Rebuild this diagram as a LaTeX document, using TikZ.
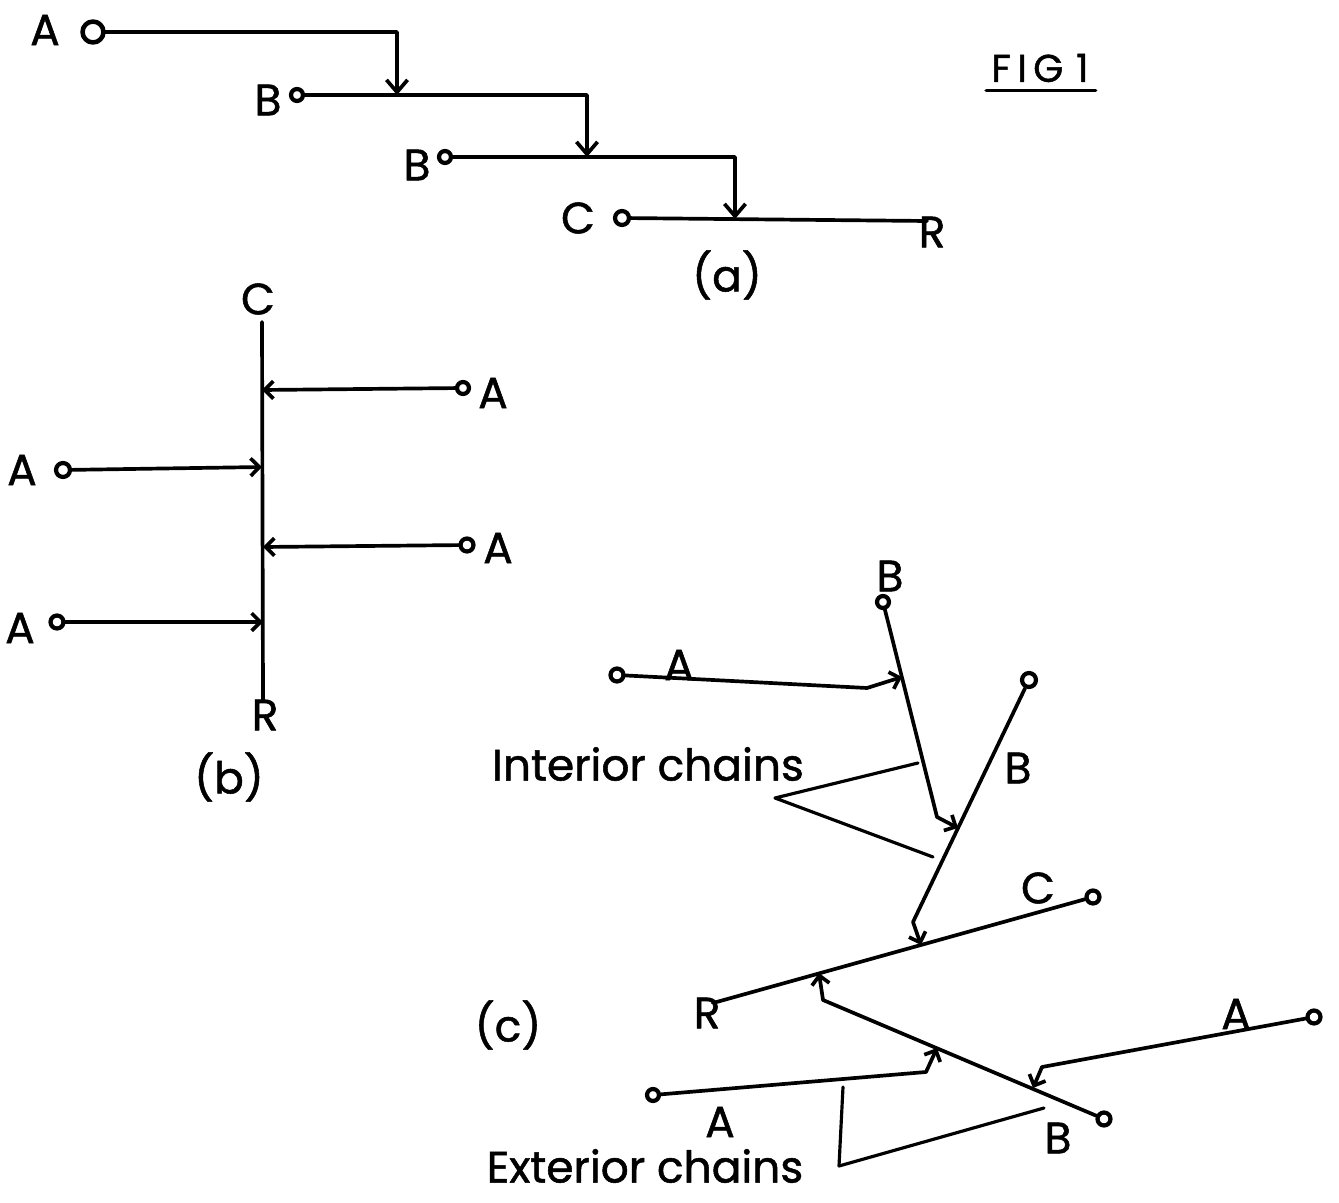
\documentclass[tikz,border=0pt]{standalone}
\usepackage{fontspec}
\setmainfont{Poppins}
\newfontfamily\labfont{Poppins}[FakeBold=1.2]
\usetikzlibrary{arrows.meta}
\begin{document}
\begin{tikzpicture}[x=0.02cm,y=-0.02cm,
  line width=2.1pt, line cap=round, line join=round,
  bigterm/.style={draw, circle, line width=2.6pt, inner sep=0pt, minimum size=21*0.567pt},
  smallterm/.style={draw, circle, line width=2.4pt, inner sep=0pt, minimum size=12*0.567pt},
  lab/.style={inner sep=0pt, font=\labfont\fontsize{25}{28}\selectfont},
  arr/.style={-{Straight Barb[length=7pt,width=12pt]}},
  sarr/.style={-{Straight Barb[length=5pt,width=10pt]}},
  brk/.style={line width=1.8pt}]
\useasboundingbox (0,0) rectangle (1339,1203);

% ---------------- panel (a)
\node[bigterm] (aA) at (93,32) {};
\node[smallterm] (aB1) at (297,95) {};
\node[smallterm] (aB2) at (445,157) {};
\node[smallterm,minimum size=14*0.567pt] (aC) at (622,218) {};
\coordinate (aJ1) at (397,95);
\coordinate (aJ2) at (587,157);
\coordinate (aJ3) at (735,219);
\coordinate (aRend) at (927,221);
\node[lab] (aAt) at (45,30) {A};
\node[lab] (aB1t) at (268,100) {B};
\node[lab] (aB2t) at (417,165) {B};
\node[lab] (aCt) at (578,218) {C};
\node[lab] (aRt) at (932,232) {R};
\draw[arr] (aA) -| (aJ1);
\draw[arr] (aB1) -| (aJ2);
\draw[arr] (aB2) -| (aJ3);
\draw (aC) -- (aRend);
\node[lab] (acap) at (727,275) {(a)};

% FIG 1
\node[lab, font=\labfont\fontsize{22}{24}\selectfont] (fig) at (1040,68) {F\,I\,G\,\,1};
\draw[line width=1.8pt] ([xshift=-2pt,yshift=-3.5pt]fig.south west) -- ([xshift=3pt,yshift=-3.5pt]fig.south east);

% ---------------- panel (b)
\node[lab] (bCt) at (258,299) {C};
\node[lab] (bRt) at (265,715) {R};
\coordinate (bTop) at (262,322);
\coordinate (bBot) at (263,700);
\draw (bTop) -- (bBot);
\node[smallterm] (bA1) at (463,388) {};
\node[smallterm,minimum size=14*0.567pt] (bA2) at (63,470) {};
\node[smallterm,minimum size=13*0.567pt] (bA3) at (467,545) {};
\node[smallterm,minimum size=13*0.567pt] (bA4) at (57,622) {};
\node[lab] at (493,393) {A};
\node[lab] at (22,470) {A};
\node[lab] at (498,548) {A};
\node[lab] at (20,628) {A};
\coordinate (bJ1) at (262,390);
\coordinate (bJ2) at (262,467);
\coordinate (bJ3) at (263,547);
\coordinate (bJ4) at (263,622);
\draw[sarr] (bA1) -- (bJ1);
\draw[sarr] (bA2) -- (bJ2);
\draw[sarr] (bA3) -- (bJ3);
\draw[sarr] (bA4) -- (bJ4);
\node[lab] (bcap) at (229,777) {(b)};

% ---------------- panel (c)
\node[smallterm] (cB1) at (883,602) {};
\node[smallterm,minimum size=13*0.567pt] (cA1) at (617,675) {};
\node[smallterm,minimum size=14*0.567pt] (cB2) at (1029,680) {};
\node[smallterm,minimum size=13*0.567pt] (cC) at (1093,897) {};
\node[smallterm,minimum size=13*0.567pt] (cB3) at (1104,1119) {};
\node[smallterm,minimum size=13*0.567pt] (cA2) at (1314,1017) {};
\node[smallterm,minimum size=12*0.567pt] (cA3) at (653,1095) {};

\node[lab] at (890,576) {B};
\node[lab] at (679,665) {A};
\node[lab] at (1018,768) {B};
\node[lab] at (1038,888) {C};
\node[lab] at (707,1013) {R};
\node[lab] at (1236,1014) {A};
\node[lab] at (720,1122) {A};
\node[lab] at (1058,1138) {B};

\coordinate (cRend) at (713,1003);
\draw (cC) -- (cRend);

\coordinate (cK1) at (867,688);  \coordinate (cT1) at (902,677);
\coordinate (cK2) at (937,817);  \coordinate (cT2) at (958,828);
\coordinate (cK3) at (913,922);  \coordinate (cT3) at (921,945);
\coordinate (cK4) at (823,1000); \coordinate (cT4) at (819,973);
\coordinate (cK5) at (1042,1067);\coordinate (cT5) at (1033,1088);
\coordinate (cK6) at (926,1072); \coordinate (cT6) at (937,1048);
\draw[sarr] (cA1) -- (cK1) -- (cT1);
\draw[sarr] (cB1) -- (cK2) -- (cT2);
\draw[sarr] (cB2) -- (cK3) -- (cT3);
\draw[sarr] (cB3) -- (cK4) -- (cT4);
\draw[sarr] (cA2) -- (cK5) -- (cT5);
\draw[sarr] (cA3) -- (cK6) -- (cT6);

% brackets
\node[lab] (intl) at (648,764) {Interior chains};
\coordinate (cI1) at (918,763);
\coordinate (cI2) at (775,798);
\coordinate (cI3) at (933,857);
\draw[brk] (cI1) -- (cI2) -- (cI3);

\node[lab] (extl) at (645,1166) {Exterior chains};
\coordinate (cE1) at (843,1087);
\coordinate (cE2) at (839,1166);
\coordinate (cE3) at (1044,1108);
\draw[brk] (cE1) -- (cE2) -- (cE3);

\node[lab] (ccap) at (508,1025) {(c)};
\end{tikzpicture}
\end{document}
